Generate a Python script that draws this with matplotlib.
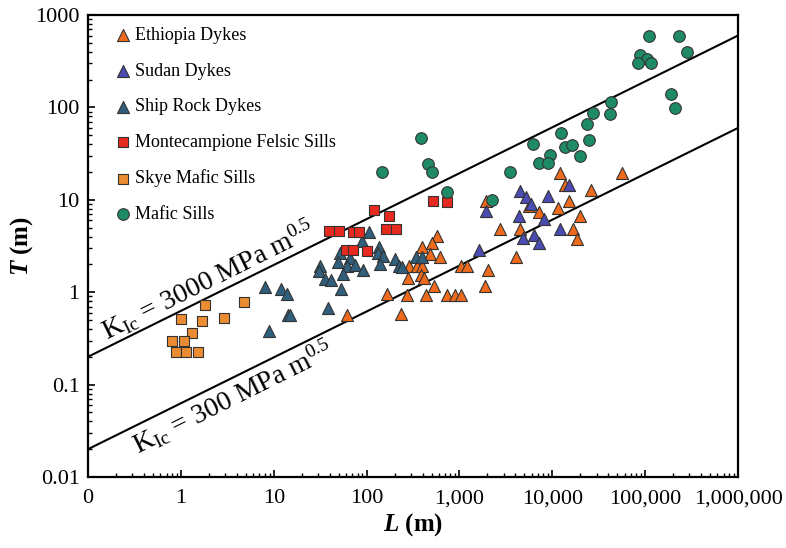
import matplotlib
matplotlib.use("Agg")
import matplotlib.pyplot as plt
from matplotlib.ticker import FixedLocator, LogLocator, NullFormatter
import numpy as np

plt.rcParams["font.family"] = ["Liberation Serif", "DejaVu Serif"]
plt.rcParams["mathtext.fontset"] = "custom"
plt.rcParams["mathtext.rm"] = "Liberation Serif"
plt.rcParams["mathtext.it"] = "Liberation Serif:italic"
plt.rcParams["mathtext.bf"] = "Liberation Serif:bold"
plt.rcParams["mathtext.bfit"] = "Liberation Serif:italic:bold"

# Ethiopia Dykes
eth_L = [568, 510, 393, 477, 616, 283, 345, 398, 276, 381, 411, 531, 165, 274,
         435, 740, 899, 1043, 1030, 1217, 2040, 1893, 235, 61.5, 2760, 4040,
         1918, 4500, 12100, 55800, 13600, 25800, 15250, 11380, 7210, 19650,
         5620, 16500, 18240]
eth_T = [4.01, 3.38, 3.09, 2.61, 2.42, 1.90, 1.90, 1.90, 1.44, 1.55, 1.43, 1.17,
         0.957, 0.944, 0.944, 0.944, 0.944, 0.944, 1.94, 1.94, 1.76, 1.17,
         0.577, 0.570, 4.80, 2.42, 9.59, 4.86, 19.5, 19.5, 14.6, 12.8, 9.71,
         8.22, 7.29, 6.76, 8.67, 4.86, 3.81]

# Sudan Dykes
sud_L = [4500, 5220, 5900, 9010, 15000, 4350, 8160, 6370, 7210, 4890, 12050,
         1918, 1611]
sud_T = [12.5, 10.7, 9.01, 11.1, 14.3, 6.68, 6.23, 4.16, 3.38, 3.83, 4.86,
         7.57, 2.88]

# Ship Rock Dykes
shp_L = [8.12, 11.9, 13.8, 14.2, 15.1, 8.97, 38.8, 53.6, 105.6, 89.7, 136.8,
         132, 148.5, 200, 222, 141, 51.4, 67, 49.2, 61.5, 75.9, 91.4, 55.6,
         31.8, 30.5, 35.2, 41.3, 337, 398, 242]
shp_T = [1.14, 1.07, 0.957, 0.566, 0.566, 0.380, 0.675, 1.07, 4.45, 3.58, 3.07,
         2.64, 2.46, 2.29, 1.92, 2.01, 2.64, 2.34, 2.14, 1.92, 1.95, 1.74, 1.59,
         1.92, 1.70, 1.38, 1.36, 2.40, 2.40, 1.89]

# Montecampione Felsic Sills
mon_L = [39.8, 51, 70.5, 82.8, 119.6, 174.5, 162, 205, 60.7, 70.5, 99.8, 514, 728]
mon_T = [4.65, 4.65, 4.48, 4.48, 7.76, 6.76, 4.79, 4.79, 2.84, 2.84, 2.81,
         9.78, 9.53]

# Skye Mafic Sills
sky_L = [1.80, 4.82, 1.0, 1.69, 2.88, 1.33, 0.80, 1.09, 0.883, 1.14, 1.51]
sky_T = [0.726, 0.789, 0.513, 0.492, 0.522, 0.359, 0.296, 0.296, 0.227, 0.227,
         0.227]

# Mafic Sills
maf_L = [110000, 232000, 282000, 88000, 105000, 83600, 115500, 190000, 210000,
         42800, 27700, 41700, 23600, 12400, 24800, 6160, 13600, 16200, 19800,
         9510, 7240, 8940, 3480, 145, 388, 462, 510, 740, 2260]
maf_T = [593, 593, 398, 369, 332, 299, 299, 140, 98.6, 114, 88, 84, 66, 52.8,
         44.4, 40.2, 37.6, 39.2, 29.8, 30.2, 25, 25, 20, 20, 46.3, 24.2, 20,
         12.1, 10]

# reference lines (end points)
line_L = [0.1, 1e6]
k3000_T = [0.2, 600]
k300_T = [0.02, 60]

x_ticks = [0.1, 1, 10, 100, 1e3, 1e4, 1e5, 1e6]
x_labels = ["0", "1", "10", "100", "1,000", "10,000", "100,000", "1,000,000"]
y_ticks = [0.01, 0.1, 1, 10, 100, 1000]
y_labels = ["0.01", "0.1", "1", "10", "100", "1000"]

fig = plt.figure(figsize=(7.86, 5.48), dpi=100)
ax = fig.add_axes([0.112, 0.1296, 0.827, 0.843])

ax.plot(line_L, k3000_T, color="black", linewidth=1.5, zorder=2)
ax.plot(line_L, k300_T, color="black", linewidth=1.5, zorder=2)

series = [
    (eth_L, eth_T, "^", "#EE6A1C", 75, "Ethiopia Dykes"),
    (sud_L, sud_T, "^", "#4B4BB4", 75, "Sudan Dykes"),
    (shp_L, shp_T, "^", "#2F5F7C", 75, "Ship Rock Dykes"),
    (mon_L, mon_T, "s", "#E62A20", 60, "Montecampione Felsic Sills"),
    (sky_L, sky_T, "s", "#EB8C32", 60, "Skye Mafic Sills"),
    (maf_L, maf_T, "o", "#1F8A66", 70, "Mafic Sills"),
]
for xs, ys, mk, col, sz, lab in series:
    ax.scatter(xs, ys, marker=mk, s=sz, c=col, edgecolors="#333333",
               linewidths=0.8, label=lab, zorder=3)

ax.set_xscale("log")
ax.set_yscale("log")
ax.set_xlim(0.1, 1e6)
ax.set_ylim(0.01, 1000)

ax.xaxis.set_major_locator(FixedLocator(x_ticks))
ax.set_xticklabels(x_labels)
ax.yaxis.set_major_locator(FixedLocator(y_ticks))
ax.set_yticklabels(y_labels)
ax.xaxis.set_minor_locator(LogLocator(base=10, subs=np.arange(2, 10), numticks=20))
ax.yaxis.set_minor_locator(LogLocator(base=10, subs=np.arange(2, 10), numticks=20))
ax.xaxis.set_minor_formatter(NullFormatter())
ax.yaxis.set_minor_formatter(NullFormatter())

ax.tick_params(which="major", direction="in", length=5, width=1.2,
               labelsize=16, top=False, right=False)
ax.tick_params(axis="x", which="major", pad=9)
ax.tick_params(axis="y", which="major", pad=6)
ax.tick_params(which="minor", direction="in", length=3, width=1.0,
               top=False, right=False)
for sp in ax.spines.values():
    sp.set_linewidth(1.6)

ax.set_xlabel(r"$\mathbfit{L}$ (m)", fontsize=18, fontweight="bold", labelpad=2)
ax.set_ylabel(r"$\mathbfit{T}$ (m)", fontsize=18, fontweight="bold")
ax.yaxis.set_label_coords(-0.082, 0.5)

ax.text(0.16, 0.30, r"K$_{\mathrm{Ic}}$ = 3000 MPa m$^{0.5}$", fontsize=20,
        rotation=26.5, rotation_mode="anchor", ha="left", va="baseline")
ax.text(0.345, 0.0175, r"K$_{\mathrm{Ic}}$ = 300 MPa m$^{0.5}$", fontsize=20,
        rotation=26.5, rotation_mode="anchor", ha="left", va="baseline")

ax.legend(loc="upper left", bbox_to_anchor=(0.012, 1.009), frameon=False,
          fontsize=13, labelspacing=1.03, handletextpad=0.05, handlelength=1.2,
          borderaxespad=0.6, borderpad=0.3, scatterpoints=1)

fig.savefig("out.png", dpi=100)
